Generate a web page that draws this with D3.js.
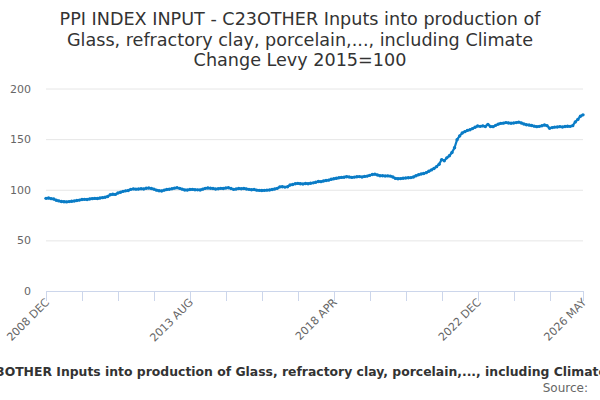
<!DOCTYPE html>
<html>
<head>
<meta charset="utf-8">
<script src="https://cdn.jsdelivr.net/npm/d3@7"></script>
<style>
  body { margin: 0; background: #fff; }
  svg { font-family: "DejaVu Sans", sans-serif; }
</style>
</head>
<body>
<svg id="chart" width="600" height="400"></svg>
<script>
// Title lines and series name
const titleLines = [
  "PPI INDEX INPUT - C23OTHER Inputs into production of",
  "Glass, refractory clay, porcelain,..., including Climate",
  "Change Levy 2015=100"
];
const seriesName = "PPI INDEX INPUT - C23OTHER Inputs into production of Glass, refractory clay, porcelain,..., including Climate Change Levy 2015=100";

// Monthly values, 2008 DEC .. 2026 MAY
const values = [
  91.5, 91.8, 91.2, 90.8, 89.6, 89.0, 88.4, 88.2, 88.0, 88.3, 88.6, 88.9,
  89.4, 89.8, 90.3, 90.5, 90.4, 90.9, 91.2, 91.5, 91.3, 91.8, 92.2, 92.6,
  93.4, 95.0, 95.6, 95.4, 96.8, 97.5, 98.4, 98.9, 99.2, 100.4, 100.9, 100.6,
  100.7, 101.0, 100.8, 101.5, 101.7, 101.2, 100.6, 99.6, 99.0, 98.8, 99.6, 100.3,
  100.5, 101.0, 101.6, 102.0, 101.4, 100.6, 99.8, 99.7, 100.2, 100.4, 100.0, 99.9,
  99.8, 100.6, 101.4, 101.8, 101.5, 101.2, 100.7, 101.0, 101.4, 101.3, 101.7, 102.0,
  101.3, 100.4, 100.7, 101.2, 101.0, 101.3, 100.8, 100.4, 100.0, 100.2, 99.6, 99.4,
  99.2, 99.4, 99.6, 99.8, 100.2, 100.7, 101.4, 102.8, 103.0, 102.6, 103.0, 104.7,
  105.2, 105.9, 106.3, 106.0, 105.7, 106.1, 106.0, 106.4, 106.8, 107.4, 108.2, 108.0,
  108.6, 109.2, 109.5, 110.3, 110.8, 111.3, 111.8, 112.2, 112.4, 112.9, 112.6, 112.2,
  112.5, 112.8, 113.0, 112.6, 113.2, 113.5, 114.2, 115.0, 115.4, 114.6, 113.9, 113.8,
  113.6, 113.7, 113.5, 112.6, 111.2, 110.9, 111.0, 111.4, 111.6, 111.8, 112.0, 112.6,
  113.9, 114.8, 115.6, 116.1, 116.9, 118.2, 119.6, 121.0, 122.8, 125.2, 129.8, 128.6,
  131.5, 133.6, 136.8, 141.5, 149.5, 153.2, 156.0, 157.4, 158.6, 159.3, 160.4, 161.8,
  163.0, 162.6, 163.1, 162.5, 164.6, 162.4, 162.3, 163.6, 164.8, 165.6, 165.8, 166.3,
  166.0, 165.7, 165.9, 166.3, 166.8, 165.9, 165.0, 164.2, 163.9, 163.4, 162.8, 162.3,
  162.6, 163.2, 164.0, 163.3, 160.7, 161.4, 161.9, 162.0, 162.3, 162.0, 162.5, 162.7,
  162.6, 163.3, 167.0, 169.5, 172.6, 174.0
];

// x tick positions (month index) and the labelled ones
const tickIndex = [0, 14, 28, 42, 56, 70, 84, 98, 112, 126, 140, 154, 168, 182, 196, 209];
const labelIndex = [0, 56, 112, 168, 209];
const labelText = ["2008 DEC", "2013 AUG", "2018 APR", "2022 DEC", "2026 MAY"];
const yTicks = [0, 50, 100, 150, 200];

const svg = d3.select("#chart");
const plot = { left: 46, right: 583, top: 88.5, bottom: 291 };

const x = d3.scaleLinear().domain([0, values.length - 1]).range([plot.left, plot.right]);
const y = d3.scaleLinear().domain([0, 200]).range([plot.bottom, plot.top]);

// Title
svg.append("text")
  .attr("x", 300)
  .attr("text-anchor", "middle")
  .attr("fill", "#333")
  .style("font-size", "17.6px")
  .selectAll("tspan")
  .data(titleLines)
  .join("tspan")
  .attr("x", 300)
  .attr("y", (d, i) => 25 + i * 20.5)
  .text(d => d);

// Grid + y labels
const yAxis = svg.append("g");
yAxis.selectAll("line")
  .data(yTicks.filter(d => d > 0))
  .join("line")
  .attr("x1", plot.left).attr("x2", plot.right)
  .attr("y1", d => y(d) + 0.5).attr("y2", d => y(d) + 0.5)
  .attr("stroke", "#e6e6e6");
yAxis.selectAll("text")
  .data(yTicks)
  .join("text")
  .attr("x", 31)
  .attr("y", d => y(d) + 4)
  .attr("text-anchor", "end")
  .attr("fill", "#666")
  .style("font-size", "11px")
  .text(d => d);

// X axis
const xAxis = svg.append("g");
xAxis.append("line")
  .attr("x1", plot.left).attr("x2", plot.right)
  .attr("y1", plot.bottom + 0.5).attr("y2", plot.bottom + 0.5)
  .attr("stroke", "#ccd6eb");
xAxis.selectAll("line.tick")
  .data(tickIndex)
  .join("line")
  .attr("class", "tick")
  .attr("x1", d => Math.round(x(d)) + 0.5).attr("x2", d => Math.round(x(d)) + 0.5)
  .attr("y1", plot.bottom).attr("y2", plot.bottom + 10)
  .attr("stroke", "#ccd6eb");
xAxis.selectAll("text")
  .data(labelIndex)
  .join("text")
  .attr("text-anchor", "end")
  .attr("fill", "#666")
  .style("font-size", "11px")
  .attr("transform", d => `translate(${x(d) + 4},${plot.bottom + 12}) rotate(-45)`)
  .text((d, i) => labelText[i]);

// Series
const colour = "#0a7cc6";
const line = d3.line().x((d, i) => x(i)).y(d => y(d));
svg.append("path")
  .datum(values)
  .attr("fill", "none")
  .attr("stroke", colour)
  .attr("stroke-width", 2.2)
  .attr("stroke-linejoin", "round")
  .attr("d", line);
svg.append("g")
  .selectAll("circle")
  .data(values)
  .join("circle")
  .attr("cx", (d, i) => x(i))
  .attr("cy", d => y(d))
  .attr("r", 1.7)
  .attr("fill", colour);

// Series name under the axis (wider than the chart, clipped both sides), and source
const legend = svg.append("text")
  .attr("y", 375.5)
  .attr("fill", "#333")
  .style("font-size", "12.4px")
  .style("font-weight", "bold")
  .text(seriesName);
// line "Inputs" up at x ~ 52 as in the reference
const probe = svg.append("text")
  .style("font-size", "12.4px")
  .style("font-weight", "bold")
  .text("PPI INDEX INPUT - C23OTHER ");
const prefixW = probe.node().getComputedTextLength();
probe.remove();
legend.attr("x", 52 - prefixW);

svg.append("text")
  .attr("x", 588)
  .attr("y", 392)
  .attr("text-anchor", "end")
  .attr("fill", "#666")
  .style("font-size", "12px")
  .text("Source:");
</script>
</body>
</html>
